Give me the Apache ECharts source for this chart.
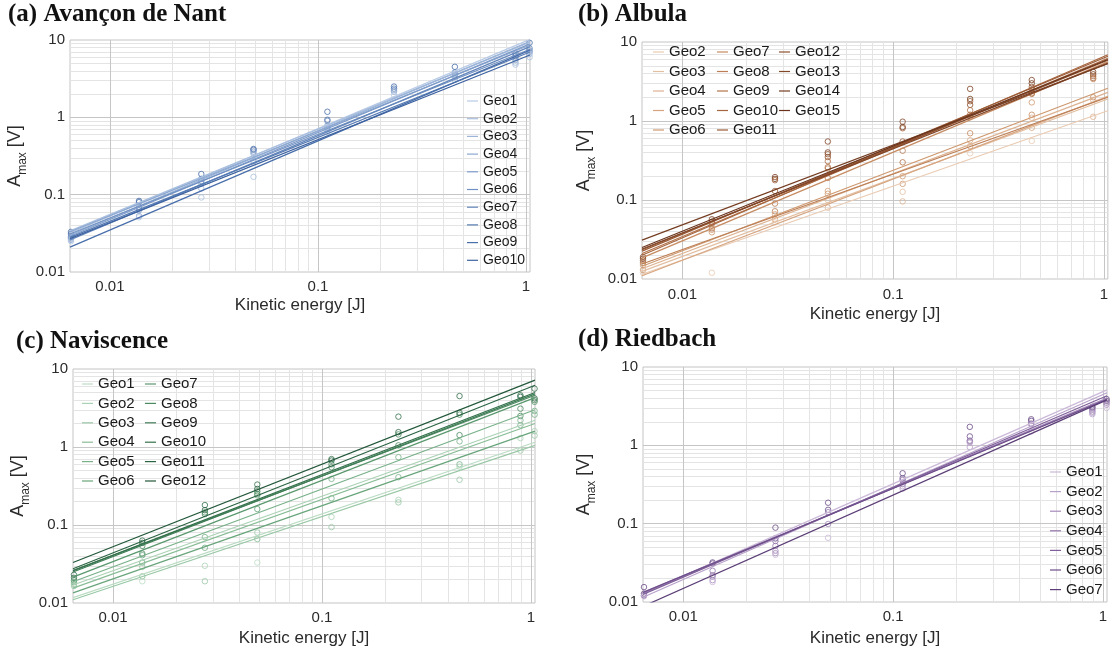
<!DOCTYPE html>
<html>
<head>
<meta charset="utf-8">
<script src="https://cdn.jsdelivr.net/npm/echarts@6/dist/echarts.min.js"></script>
<style>
  html, body { margin: 0; padding: 0; background: #fff; }
  #chart { width: 1111px; height: 652px; }
</style>
</head>
<body>
<div id="chart"></div>
<script>
// Impact energies of the calibration drops [J]
const energies = [0.0065, 0.0138, 0.0275, 0.049, 0.111, 0.232, 0.455, 0.89, 1.04];
// Energy span covered by the power-law fits (also the x-range of every panel)
const fitSpan = [0.00643, 1.045];
const ampRange = [0.01, 10];

// Axis tick values and grid positions
const xMajor = [0.01, 0.1, 1];
const yMajor = [0.01, 0.1, 1, 10];
const xMinor = [0.007, 0.008, 0.009, 0.02, 0.03, 0.04, 0.05, 0.06, 0.07, 0.08, 0.09,
                0.2, 0.3, 0.4, 0.5, 0.6, 0.7, 0.8, 0.9];
const yMinor = [0.02, 0.03, 0.04, 0.05, 0.06, 0.07, 0.08, 0.09,
                0.2, 0.3, 0.4, 0.5, 0.6, 0.7, 0.8, 0.9,
                2, 3, 4, 5, 6, 7, 8, 9];

// (a) Avançon de Nant
const aNames = ['Geo1', 'Geo2', 'Geo3', 'Geo4', 'Geo5', 'Geo6', 'Geo7', 'Geo8', 'Geo9', 'Geo10'];
const aFitStart = [0.032, 0.034, 0.030, 0.033, 0.029, 0.031, 0.026, 0.028, 0.021, 0.027];
const aFitEnd   = [10.2, 9.4, 9.6, 8.6, 8.9, 7.6, 8.2, 7.0, 7.4, 6.4];
const aPoints = [
  [0.033, 0.031, 0.029, 0.028, 0.027, 0.026, 0.025],
  [0.083, 0.080, 0.069, 0.066, 0.063, 0.053, 0.051],
  [0.185, 0.16, 0.15, 0.14, 0.12, 0.092],
  [0.39, 0.38, 0.36, 0.34, 0.27, 0.17],
  [1.18, 0.93, 0.90, 0.78, 0.74, 0.70, 0.64],
  [2.5, 2.35, 2.25, 2.15, 1.95],
  [4.5, 3.8, 3.6, 3.45, 3.3, 3.05],
  [6.7, 6.2, 5.9, 5.5, 5.1, 4.8],
  [9.2, 7.8, 7.3, 7.0, 6.6, 6.0]
];

// (b) Albula
const bNames = ['Geo2', 'Geo3', 'Geo4', 'Geo5', 'Geo6', 'Geo7', 'Geo8', 'Geo9',
                'Geo10', 'Geo11', 'Geo12', 'Geo13', 'Geo14', 'Geo15'];
const bFitStart = [0.0115, 0.0125, 0.0135, 0.011, 0.0145, 0.0185, 0.0155, 0.021,
                   0.020, 0.0225, 0.0235, 0.024, 0.031, 0.025];
const bFitEnd   = [1.35, 1.9, 2.3, 2.05, 2.6, 5.6, 2.0, 6.2,
                   6.9, 6.6, 5.9, 5.4, 5.3, 6.0];
const bPoints = [
  [0.019, 0.018, 0.017, 0.016, 0.015, 0.013, 0.012],
  [0.057, 0.053, 0.050, 0.044, 0.042, 0.039, 0.012],
  [0.195, 0.185, 0.178, 0.13, 0.09, 0.072, 0.066, 0.057, 0.052],
  [0.55, 0.40, 0.38, 0.35, 0.31, 0.26, 0.25, 0.19, 0.13, 0.12, 0.10, 0.08],
  [0.98, 0.84, 0.81, 0.55, 0.42, 0.30, 0.20, 0.16, 0.127, 0.096],
  [2.55, 1.9, 1.78, 1.6, 1.37, 1.2, 1.12, 0.70, 0.57, 0.48, 0.39],
  [3.3, 3.0, 2.7, 2.5, 2.25, 2.2, 1.72, 1.2, 1.1, 0.82, 0.56],
  [4.2, 3.9, 3.7, 3.5, 3.4, 2.0, 1.85, 1.13]
];

// (c) Naviscence
const cNames = ['Geo1', 'Geo2', 'Geo3', 'Geo4', 'Geo5', 'Geo6',
                'Geo7', 'Geo8', 'Geo9', 'Geo10', 'Geo11', 'Geo12'];
const cFitStart = [0.0117, 0.017, 0.011, 0.0155, 0.0187, 0.0135, 0.0215, 0.026, 0.025, 0.026, 0.0275, 0.033];
const cFitEnd   = [1.15, 2.2, 1.05, 2.0, 3.0, 1.6, 4.3, 4.6, 4.8, 5.0, 6.2, 7.2];
const cPoints = [
  [0.023, 0.021, 0.0195, 0.0185, 0.0175, 0.0165],
  [0.063, 0.059, 0.054, 0.043, 0.041, 0.033, 0.029, 0.022, 0.019],
  [0.18, 0.155, 0.145, 0.138, 0.07, 0.051, 0.03, 0.019],
  [0.33, 0.29, 0.27, 0.25, 0.24, 0.16, 0.08, 0.066, 0.033],
  [0.70, 0.67, 0.60, 0.55, 0.39, 0.22, 0.127, 0.094],
  [2.45, 1.55, 1.45, 1.05, 0.74, 0.41, 0.21, 0.195],
  [4.5, 2.75, 2.6, 1.42, 1.18, 0.60, 0.56, 0.38],
  [4.6, 4.4, 3.1, 2.5, 2.2, 1.9, 1.3, 0.9],
  [5.6, 4.2, 4.0, 3.8, 2.9, 2.6, 1.6, 1.4]
];

// (d) Riedbach
const dNames = ['Geo1', 'Geo2', 'Geo3', 'Geo4', 'Geo5', 'Geo6', 'Geo7'];
const dFitStart = [0.0128, 0.0115, 0.013, 0.0133, 0.0125, 0.0132, 0.0088];
const dFitEnd   = [5.1, 4.7, 4.0, 3.9, 4.3, 3.85, 3.8];
const dPoints = [
  [0.0155, 0.0128, 0.0122, 0.012, 0.0118],
  [0.032, 0.031, 0.025, 0.022, 0.021, 0.019, 0.018],
  [0.089, 0.065, 0.060, 0.052, 0.045, 0.042, 0.040],
  [0.185, 0.15, 0.14, 0.099, 0.066],
  [0.44, 0.38, 0.36, 0.32, 0.30, 0.28],
  [1.72, 1.3, 1.15, 1.12, 1.08, 0.95],
  [2.15, 2.05, 1.9, 1.85, 1.5],
  [3.1, 3.0, 2.85, 2.7, 2.6, 2.5],
  [3.9, 3.7, 3.5, 3.3, 3.0]
];

// Colour ramps, light to dark, one shade per geophone
const aPalette = ['#b8cae5', '#a9bfdf', '#9bb4d8', '#8ca8d1', '#7e9cca',
                  '#7091c3', '#6285bb', '#557ab3', '#486eaa', '#3c62a0'];
const bPalette = ['#e9cbb3', '#e3bfa2', '#ddb291', '#d6a580', '#ce986f', '#c68b61', '#bc7e54',
                  '#b27249', '#a7663f', '#9b5b36', '#8e502e', '#824628', '#753d22', '#69341d'];
const cPalette = ['#bcdcc4', '#abd2b5', '#9ac8a6', '#89bd97', '#78b189', '#68a57b',
                  '#5a986e', '#4c8b62', '#407e57', '#35714c', '#2b6443', '#23583a'];
const dPalette = ['#cbb9d8', '#b8a1c9', '#a58aba', '#9274aa', '#7f609a', '#6d4e89', '#5b3e77'];

const FONT = '"Liberation Sans", Arial, Helvetica, sans-serif';
const SERIF = '"Liberation Serif", "Times New Roman", serif';
const TEXT = '#2b2b2b';

const panels = [
  { title: '(a) Avançon de Nant', titlePos: [8, 2],
    names: aNames, start: aFitStart, end: aFitEnd, points: aPoints, palette: aPalette,
    grid: { left: 70, top: 40, width: 460, height: 232 },
    xLabelMargin: 7, xNameGap: 25, yNameGap: 41,
    legends: [{ left: 467, top: 94, from: 0, to: 10, fontSize: 14, gap: 3.7 }] },
  { title: '(b) Albula', titlePos: [578, 2],
    names: bNames, start: bFitStart, end: bFitEnd, points: bPoints, palette: bPalette,
    grid: { left: 642, top: 42, width: 470, height: 237 },
    xLabelMargin: 8, xNameGap: 27, yNameGap: 44,
    legends: [{ left: 653, top: 44.5, from: 0, to: 5, fontSize: 15, gap: 4.5 },
              { left: 717, top: 44.5, from: 5, to: 10, fontSize: 15, gap: 4.5 },
              { left: 779, top: 44.5, from: 10, to: 14, fontSize: 15, gap: 4.5 }] },
  { title: '(c) Naviscence', titlePos: [16, 329],
    names: cNames, start: cFitStart, end: cFitEnd, points: cPoints, palette: cPalette,
    grid: { left: 73, top: 369, width: 462, height: 234 },
    xLabelMargin: 7.5, xNameGap: 26.5, yNameGap: 41,
    legends: [{ left: 82, top: 376.5, from: 0, to: 6, fontSize: 15, gap: 4.4 },
              { left: 145, top: 376.5, from: 6, to: 12, fontSize: 15, gap: 4.4 }] },
  { title: '(d) Riedbach', titlePos: [578, 327],
    names: dNames, start: dFitStart, end: dFitEnd, points: dPoints, palette: dPalette,
    grid: { left: 643, top: 367, width: 464, height: 235 },
    xLabelMargin: 7.5, xNameGap: 27.5, yNameGap: 45,
    legends: [{ left: 1050, top: 464.5, from: 0, to: 7, fontSize: 15, gap: 4.6 }] }
];

const option = {
  animation: false,
  backgroundColor: '#ffffff',
  title: [], grid: [], xAxis: [], yAxis: [], legend: [], series: []
};

panels.forEach((p, g) => {
  option.title.push({
    text: p.title, left: p.titlePos[0], top: p.titlePos[1], padding: 0,
    textStyle: { fontFamily: SERIF, fontWeight: 'bold', fontSize: 25, color: '#111' }
  });
  option.grid.push(Object.assign({ show: true, borderColor: '#c4c4c4', borderWidth: 1,
                                   backgroundColor: 'transparent' }, p.grid));
  option.xAxis.push({
    type: 'log', logBase: 10, gridIndex: g, min: fitSpan[0], max: fitSpan[1],
    name: 'Kinetic energy [J]', nameLocation: 'middle', nameGap: p.xNameGap,
    nameTextStyle: { fontFamily: FONT, fontSize: 17, color: TEXT },
    axisLine: { show: false },
    axisTick: { show: false, customValues: xMajor },
    axisLabel: { customValues: xMajor, fontFamily: FONT, fontSize: 15, color: TEXT,
                 margin: p.xLabelMargin, formatter: v => String(+v.toPrecision(3)) },
    splitLine: { show: false }, minorSplitLine: { show: false }
  });
  option.yAxis.push({
    type: 'log', logBase: 10, gridIndex: g, min: ampRange[0], max: ampRange[1],
    name: '{a|A}{s|max}{a| [V]}', nameLocation: 'middle', nameGap: p.yNameGap,
    nameTextStyle: {
      fontFamily: FONT, color: TEXT,
      rich: {
        a: { fontFamily: FONT, fontSize: 18, color: TEXT, verticalAlign: 'bottom', padding: [0, 0, 5, 0] },
        s: { fontFamily: FONT, fontSize: 12, color: TEXT, verticalAlign: 'bottom' }
      }
    },
    axisLine: { show: false },
    axisTick: { show: false, customValues: yMajor },
    axisLabel: { customValues: yMajor, fontFamily: FONT, fontSize: 15, color: TEXT,
                 margin: 5, formatter: v => String(+v.toPrecision(3)) },
    splitLine: { show: false }, minorSplitLine: { show: false }
  });

  // Background grid (minor and decade lines), kept underneath everything else
  const minorStyle = { color: '#e4e4e4', width: 1, type: 'solid' };
  const majorStyle = { color: '#c6c6c6', width: 1, type: 'solid' };
  const gridLines = []
    .concat(xMinor.map(v => ({ xAxis: v, lineStyle: minorStyle })))
    .concat(yMinor.map(v => ({ yAxis: v, lineStyle: minorStyle })))
    .concat(xMajor.filter(v => v > fitSpan[0] && v < fitSpan[1]).map(v => ({ xAxis: v, lineStyle: majorStyle })))
    .concat(yMajor.filter(v => v > ampRange[0] && v < ampRange[1]).map(v => ({ yAxis: v, lineStyle: majorStyle })));
  option.series.push({
    type: 'line', name: 'grid' + g, xAxisIndex: g, yAxisIndex: g, z: 0,
    data: [[fitSpan[0], ampRange[0]]], showSymbol: false, symbol: 'none',
    lineStyle: { width: 0 }, silent: true,
    markLine: { z: 0, silent: true, symbol: ['none', 'none'], label: { show: false },
                animation: false, lineStyle: { type: 'solid' }, data: gridLines }
  });

  // Measured amplitudes: hollow circles, shaded like the fits
  const n = p.palette.length;
  const pts = [];
  p.points.forEach((col, k) => {
    const m = col.length;
    col.forEach((v, j) => {
      const idx = m > 1 ? Math.round((n - 1) * (1 - j / (m - 1)) * 0.85 + (n - 1) * 0.15 * (j % 2)) : n - 1;
      pts.push({ value: [energies[k], v],
                 itemStyle: { color: 'rgba(0,0,0,0)', borderColor: p.palette[Math.min(n - 1, idx)], borderWidth: 1 } });
    });
  });
  option.series.push({
    type: 'scatter', name: 'points' + g, xAxisIndex: g, yAxisIndex: g, z: 3,
    symbol: 'circle', symbolSize: 5.5, data: pts, silent: true
  });

  // Power-law fits, one per geophone
  p.names.forEach((name, i) => {
    option.series.push({
      type: 'line', name: name, xAxisIndex: g, yAxisIndex: g, z: 4,
      color: p.palette[i], showSymbol: false, symbol: 'none', silent: true,
      lineStyle: { color: p.palette[i], width: 1.2, type: 'solid' },
      data: [[fitSpan[0], p.start[i]], [fitSpan[1], p.end[i]]]
    });
  });

  // Legends (one block per column)
  p.legends.forEach(L => {
    option.legend.push({
      orient: 'vertical', left: L.left, top: L.top, padding: 0, z: 6,
      itemWidth: 11, itemHeight: 1.2, itemGap: L.gap, icon: 'rect',
      selectedMode: false,
      textStyle: { fontFamily: FONT, fontSize: L.fontSize, lineHeight: L.fontSize, color: '#1a1a1a' },
      // series names repeat across panels, so each entry carries its own panel's shade
      data: p.names.slice(L.from, L.to).map(nm => ({
        name: nm, icon: 'rect',
        itemStyle: { color: p.palette[p.names.indexOf(nm)], borderWidth: 0 },
        lineStyle: { type: 'solid', width: 0 }
      }))
    });
  });
});

const chart = echarts.init(document.getElementById('chart'), null, { renderer: 'canvas' });
chart.setOption(option);
</script>
</body>
</html>
